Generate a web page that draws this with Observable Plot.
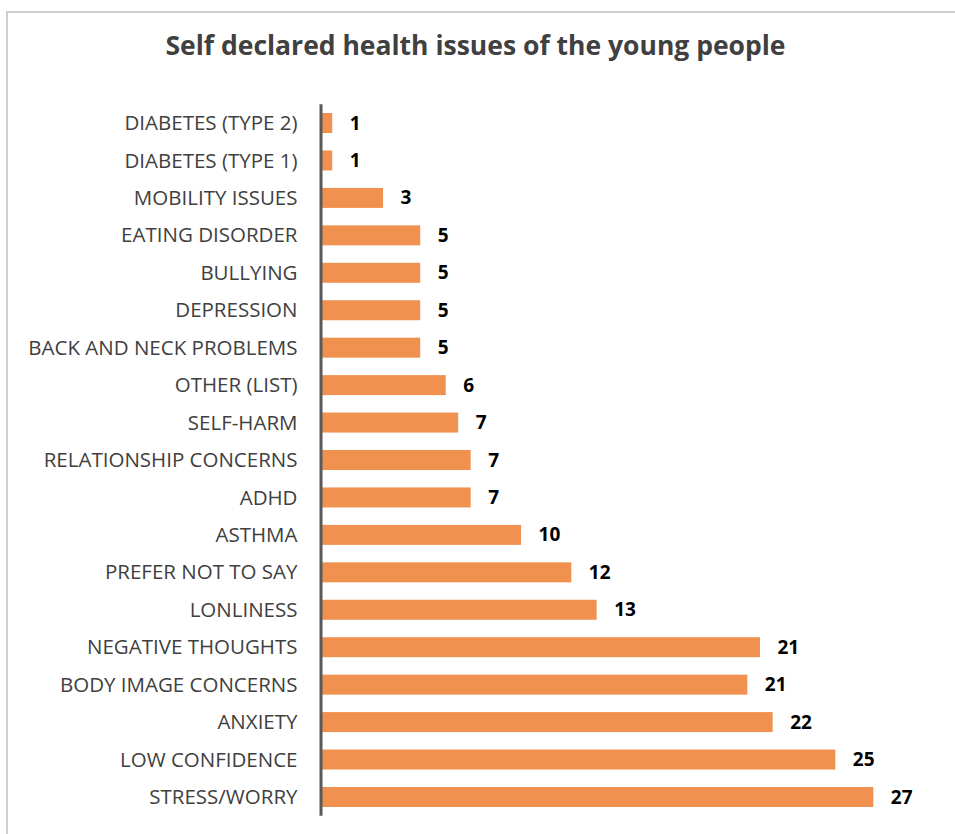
<!DOCTYPE html>
<html>
<head>
<meta charset="utf-8">
<script src="https://cdn.jsdelivr.net/npm/d3@7"></script>
<script src="https://cdn.jsdelivr.net/npm/@observablehq/plot@0.6"></script>
<style>
  html, body { margin: 0; padding: 0; background: #fff; }
  #page { position: relative; width: 955px; height: 834px; overflow: hidden; background: #fff; }
  #frame { position: absolute; left: 6px; top: 11px; width: 1000px; height: 900px;
           border-left: 2px solid #cfcfcf; border-top: 2px solid #cfcfcf; }
  #title { position: absolute; left: 0; width: 951px; top: 27px; text-align: center;
           font-family: "Open Sans", sans-serif; font-weight: 700; font-size: 26.5px;
           color: #404040; line-height: 36px; }
  #chart { position: absolute; left: 0; top: 80px; }
</style>
</head>
<body>
<div id="page">
  <div id="frame"></div>
  <div id="title">Self declared health issues of the young people</div>
  <div id="chart"></div>
</div>
<script>
// Categories, top to bottom as drawn
const categories = [
  "DIABETES (TYPE 2)", "DIABETES (TYPE 1)", "MOBILITY ISSUES", "EATING DISORDER",
  "BULLYING", "DEPRESSION", "BACK AND NECK PROBLEMS", "OTHER (LIST)", "SELF-HARM",
  "RELATIONSHIP CONCERNS", "ADHD", "ASTHMA", "PREFER NOT TO SAY", "LONLINESS",
  "NEGATIVE THOUGHTS", "BODY IMAGE CONCERNS", "ANXIETY", "LOW CONFIDENCE", "STRESS/WORRY"
];
// Bar lengths as drawn in the picture
const barValues = [
  0.5, 0.5, 2.99, 4.81,
  4.81, 4.81, 4.81, 6.06, 6.67,
  7.28, 7.28, 9.75, 12.21, 13.45,
  21.45, 20.83, 22.07, 25.14, 27.0
];
// Data labels printed at bar ends
const dataLabels = [
  1, 1, 3, 5,
  5, 5, 5, 6, 7,
  7, 7, 10, 12, 13,
  21, 21, 22, 25, 27
];

const rows = categories.map((c, i) => ({category: c, value: barValues[i], label: dataLabels[i]}));

const chart = Plot.plot({
  width: 955,
  height: 754,
  marginLeft: 322,
  marginRight: 81.7,
  marginTop: 24.3,
  marginBottom: 18.3,
  style: {fontFamily: "Open Sans, sans-serif", fontSize: "20.5px", color: "#404040", background: "transparent"},
  x: {domain: [0, 27], axis: null},
  y: {domain: categories, paddingInner: 0.466, paddingOuter: 0.233, round: false, label: null},
  marks: [
    Plot.barX(rows, {x: "value", y: "category", fill: "#F0914F"}),
    Plot.ruleX([0], {dx: -1.5, stroke: "#595959", strokeWidth: 3}),
    Plot.axisY({tickSize: 0, tickPadding: 25, label: null, fontSize: 20.5}),
    Plot.text(rows, {x: "value", y: "category", text: d => String(d.label), dx: 17, textAnchor: "start",
                     fill: "#000", fontWeight: "bold", fontSize: 19})
  ]
});
document.getElementById("chart").appendChild(chart);
</script>
</body>
</html>
